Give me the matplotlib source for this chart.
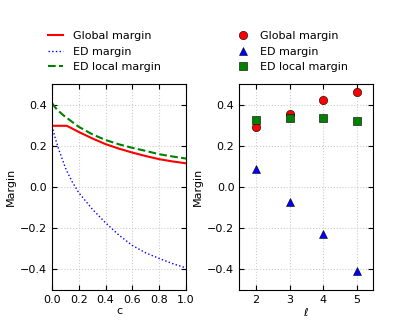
# Margin vs c (left) and margin vs ell (right)

import numpy as np
import matplotlib.pyplot as plt

plt.rcParams['font.size'] = 8
plt.rcParams['xtick.direction'] = 'in'
plt.rcParams['ytick.direction'] = 'in'
plt.rcParams['xtick.top'] = True
plt.rcParams['ytick.right'] = True
plt.rcParams['xtick.major.size'] = 3.5
plt.rcParams['ytick.major.size'] = 3.5
plt.rcParams['axes.linewidth'] = 0.8

# left panel: margin as a function of c
c_vals = [0.0, 0.025, 0.05, 0.1, 0.11, 0.15, 0.2, 0.3, 0.4, 0.5, 0.6, 0.7, 0.8, 0.9, 1.0]
global_margin = [0.297, 0.297, 0.297, 0.297, 0.297, 0.284, 0.267, 0.236, 0.208, 0.186, 0.167, 0.150, 0.135, 0.124, 0.115]
ed_margin = [0.296, 0.235, 0.183, 0.093, 0.078, 0.026, -0.028, -0.107, -0.174, -0.234, -0.284, -0.320, -0.347, -0.372, -0.393]
ed_local_margin = [0.407, 0.385, 0.368, 0.340, 0.336, 0.316, 0.292, 0.256, 0.228, 0.207, 0.190, 0.175, 0.159, 0.148, 0.138]

# right panel: margin as a function of ell
ell = [2, 3, 4, 5]
global_pts = [0.290, 0.353, 0.422, 0.461]
ed_pts = [0.085, -0.073, -0.226, -0.408]
ed_local_pts = [0.324, 0.334, 0.337, 0.322]

fig = plt.figure(figsize=(4.15, 3.23), dpi=100)
ax1 = fig.add_axes([0.1253, 0.1022, 0.3229, 0.6378])
ax2 = fig.add_axes([0.5766, 0.1022, 0.3229, 0.6378])

ax1.plot(c_vals, global_margin, color='r', lw=1.5, label='Global margin')
ax1.plot(c_vals, ed_margin, color='b', lw=1.0, ls=':', label='ED margin')
ax1.plot(c_vals, ed_local_margin, color='g', lw=1.5, ls='--', label='ED local margin')
ax1.set_xlim(0, 1)
ax1.set_xticks(np.arange(0, 1.01, 0.2))
ax1.set_xlabel('c', labelpad=1)

ax2.plot(ell, global_pts, 'o', color='r', mec='k', mew=0.4, ms=6, label='Global margin')
ax2.plot(ell, ed_pts, '^', color='b', mec='k', mew=0.4, ms=6, label='ED margin')
ax2.plot(ell, ed_local_pts, 's', color='g', mec='k', mew=0.4, ms=6, label='ED local margin')
ax2.set_xlim(1.5, 5.5)
ax2.set_xticks(ell)
ax2.set_xlabel(r'$\ell$', labelpad=1)

for ax in (ax1, ax2):
    ax.set_ylim(-0.5, 0.5)
    ax.set_yticks(np.arange(-0.4, 0.41, 0.2))
    ax.set_ylabel('Margin')
    ax.grid(True, color='#cccccc', ls=':', lw=0.8)
    ax.set_axisbelow(True)
    ax.yaxis.labelpad = 3

ax1.legend(loc='lower left', bbox_to_anchor=(-0.06, 1.035), frameon=False,
           handlelength=1.3, handletextpad=0.9, labelspacing=0.52, borderaxespad=0)
ax2.legend(loc='lower left', bbox_to_anchor=(-0.06, 1.035), frameon=False, numpoints=1,
           handlelength=1.3, handletextpad=0.9, labelspacing=0.52, borderaxespad=0)

plt.savefig('out.png', dpi=100)
